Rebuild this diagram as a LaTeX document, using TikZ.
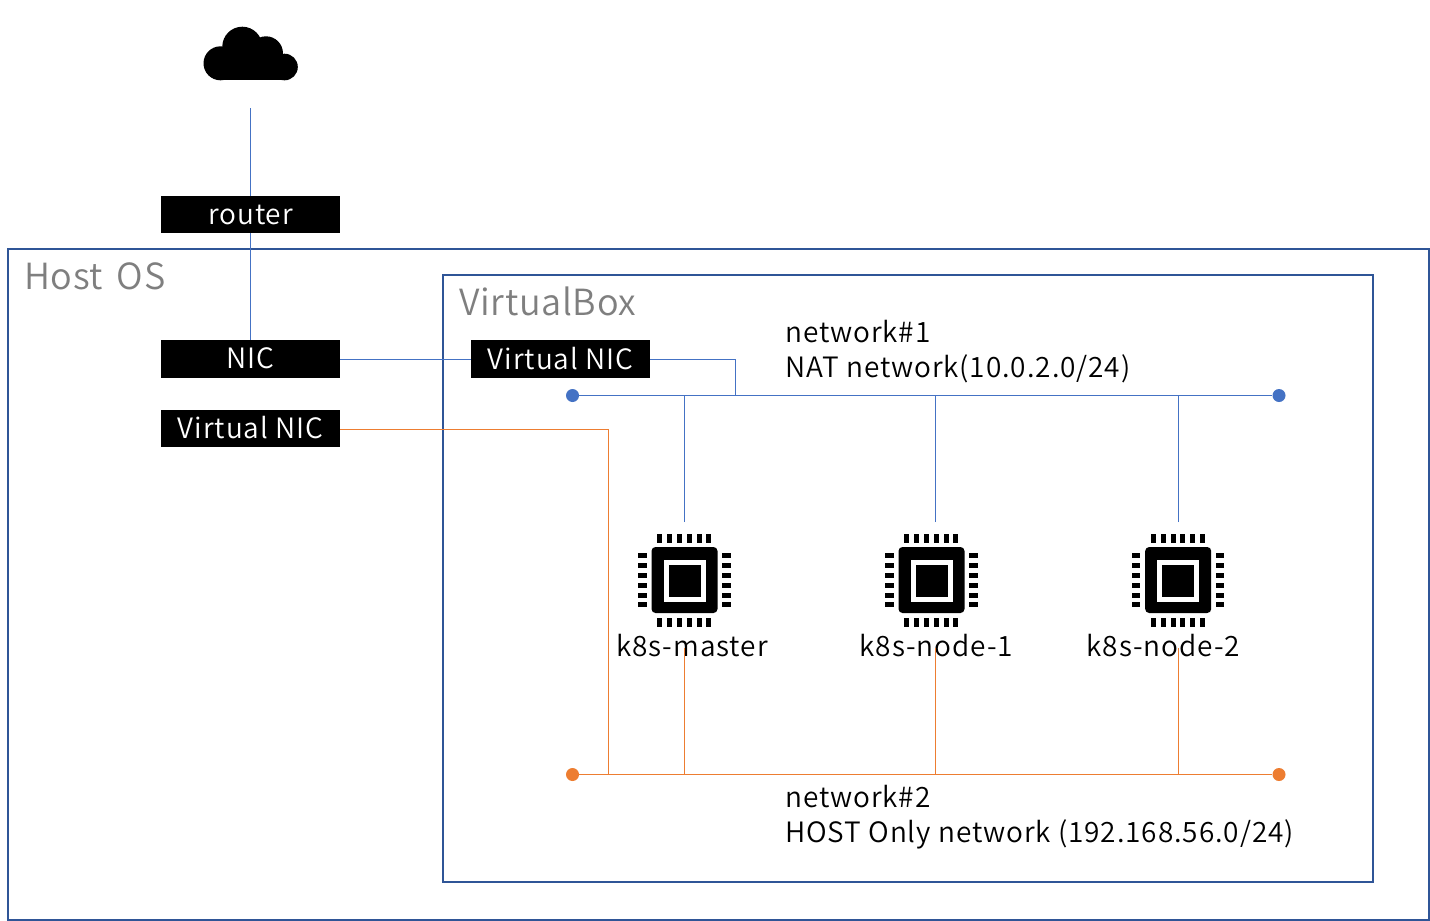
\documentclass[tikz,border=0pt]{standalone}
\usepackage{fontspec}
\setmainfont{Noto Sans CJK JP DemiLight}[LetterSpace=3.3]
\usetikzlibrary{backgrounds}
\definecolor{framec}{HTML}{2F5597}
\definecolor{netblue}{HTML}{4472C4}
\definecolor{netorange}{HTML}{ED7D31}
\definecolor{titlegray}{HTML}{7F7F7F}
\tikzset{
  x=1pt,y=-1pt,
  frame/.style={draw=framec,line width=2pt,fill=white},
  nicbox/.style={fill=black,text=white,minimum width=179pt,minimum height=37.5pt,inner sep=0pt,font=\fontsize{28}{30}\selectfont},
  title/.style={anchor=base west,inner sep=0pt,text=titlegray,font=\fontsize{36}{40}\selectfont\addfontfeature{LetterSpace=1.9}},
  label/.style={anchor=base west,inner sep=0pt,font=\fontsize{28}{30}\selectfont},
  chiplabel/.style={anchor=base,inner sep=0pt,font=\fontsize{28}{30}\selectfont},
  bluenet/.style={draw=netblue,line width=1pt},
  orangenet/.style={draw=netorange,line width=1pt},
  bluedot/.style={circle,fill=netblue,minimum size=13pt,inner sep=0pt},
  orangedot/.style={circle,fill=netorange,minimum size=13pt,inner sep=0pt},
  chip/.pic={
    \fill[rounded corners=4pt] (-32.8,-33.3) rectangle (33.2,32.7);
    \fill[white] (-20.8,-20.6) rectangle (21.2,21.4);
    \fill[black] (-15.8,-15.4) rectangle (16.2,16.4);
    \foreach \i in {-2.5,-1.5,-0.5,0.5,1.5,2.5}{
      \fill ({\i*9.8-2.5},-46.3) rectangle ({\i*9.8+2.5},-37.6);
      \fill ({\i*9.8-2.5},38) rectangle ({\i*9.8+2.5},46.7);
      \fill (-46.3,{\i*9.8-2.5}) rectangle (-37.6,{\i*9.8+2.5});
      \fill (37.7,{\i*9.8-2.5}) rectangle (46.4,{\i*9.8+2.5});
    }
  }
}
\begin{document}
\begin{tikzpicture}
\useasboundingbox (0,0) rectangle (1430,921);
\fill[white] (0,0) rectangle (1430,921);
% frames
\node[frame,minimum width=1421pt,minimum height=671pt,inner sep=0pt] (hostos) at (718.5,584.5) {};
\node[frame,minimum width=930pt,minimum height=607pt,inner sep=0pt] (vbox) at (908,578.5) {};
\node[title] (hosttitle) at (24,289) {Host\kern5pt{} OS};
\node[title] (vboxtitle) at (459,315) {VirtualBox};
% cloud
\fill (220.5,63.3) circle[radius=17];
\fill (242.3,46.7) circle[radius=20];
\fill (266,53.3) circle[radius=17];
\fill (284.5,67) circle[radius=13.3];
\fill (220.5,60) rectangle (284.5,80.3);
\coordinate (cloudlink) at (250.5,108);
% boxes
\node[nicbox] (router) at (250.5,214.5) {router};
\node[nicbox] (nic) at (250.5,359) {\raisebox{1.5pt}{NIC}};
\node[nicbox] (vnichost) at (250.5,428.5) {\raisebox{1.5pt}{Virtual NIC}};
\node[nicbox] (vnicvb) at (560.5,359) {\raisebox{1.5pt}{Virtual NIC}};
% network labels
\node[label] (net1a) at (785,342) {network\#1};
\node[label] (net1b) at (785,377) {NAT network(10.0.2.0/24)};
\node[label] (net2a) at (785,807) {network\#2};
\node[label] (net2b) at (785,842) {HOST Only network (192.168.56.0/24)};
% bus ends
\node[bluedot] (b1) at (572.5,395.5) {};
\node[bluedot] (b2) at (1279,395.5) {};
\node[orangedot] (o1) at (572.5,774.5) {};
\node[orangedot] (o2) at (1279,774.5) {};
% chips
\pic at (684.3,580.3) {chip};
\pic at (931.3,580.3) {chip};
\pic at (1178,580.3) {chip};
\node[chiplabel] (m) at (692,656) {k8s-master};
\node[chiplabel] (n1) at (936.5,656) {k8s-node-1};
\node[chiplabel] (n2) at (1163.5,656) {k8s-node-2};
% connection points
\coordinate (mtop) at (684.5,522);
\coordinate (n1top) at (935.5,522);
\coordinate (n2top) at (1178,522);
\coordinate (mbot) at (684.5,648);
\coordinate (n1bot) at (935.5,648);
\coordinate (n2bot) at (1178,648);
\coordinate (bj) at (735.5,395.5);
\coordinate (oh) at (608.7,429.7);
\coordinate (oj) at (608.7,774.5);
% connectors
\draw[bluenet] (b1) -- (b2);
\draw[orangenet] (o1) -- (o2);
\draw[bluenet] (mtop) -- (mtop |- b1);
\draw[bluenet] (n1top) -- (n1top |- b1);
\draw[bluenet] (n2top) -- (n2top |- b1);
\draw[orangenet] (mbot) -- (mbot |- o1);
\draw[orangenet] (n1bot) -- (n1bot |- o1);
\draw[orangenet] (n2bot) -- (n2bot |- o1);
\draw[bluenet] (nic.east) -- (vnicvb.west);
\draw[bluenet] (vnicvb.east) -| (bj);
\draw[orangenet] (vnichost.east |- oh) -- (oh);
\draw[orangenet,line width=1.5pt] (oh) -- (oj);
\draw[bluenet] (cloudlink) -- (router.north);
\draw[bluenet] (router.south) -- (nic.north);
\end{tikzpicture}
\end{document}
